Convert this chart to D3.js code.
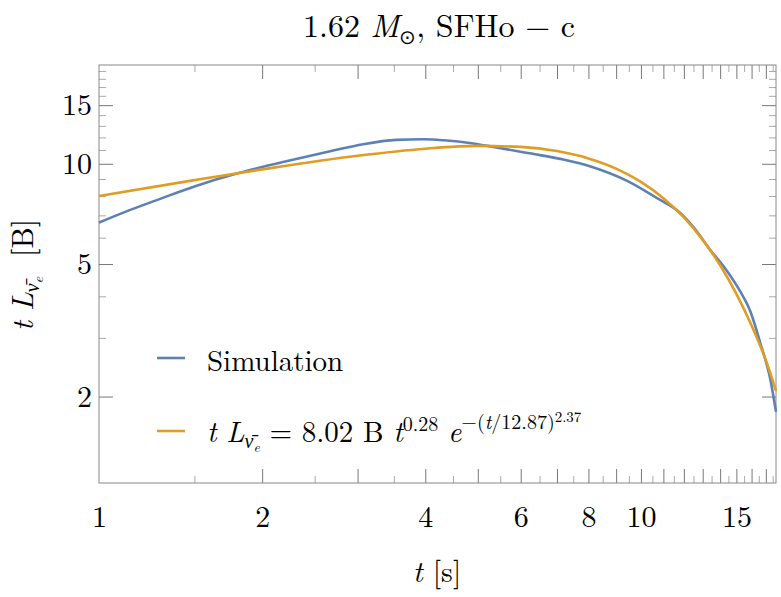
<!DOCTYPE html>
<html>
<head>
<meta charset="utf-8">
<script src="https://cdn.jsdelivr.net/npm/d3@7"></script>
<style>
body { margin: 0; background: #fff; }
text { font-family: "Latin Modern Roman", "CMU Serif", "Liberation Serif", serif; fill: #000; white-space: pre; }
</style>
</head>
<body>
<div id="chart"></div>
<script>
// simulation curve
var simT = [1.00, 1.13, 1.30, 1.50, 1.81, 2.00, 2.30, 2.67, 3.07, 3.54, 3.96, 4.38, 4.83, 5.41, 6.23, 7.19, 8.10, 9.41, 10.83, 11.66, 12.50, 13.38, 14.37, 15.23, 15.92, 16.60, 17.33, 17.75];
var simY = [6.66, 7.22, 7.86, 8.55, 9.38, 9.78, 10.32, 10.90, 11.45, 11.80, 11.85, 11.75, 11.55, 11.20, 10.75, 10.30, 9.80, 8.90, 7.80, 7.25, 6.45, 5.55, 4.80, 4.15, 3.60, 2.90, 2.25, 1.80];

// fitted curve
var fitT = [1, 1.5, 2, 3, 4, 5, 6, 7, 8, 9, 10, 11, 12, 13, 14, 15, 16, 17, 17.75];
var fitY = [8.00, 8.93, 9.62, 10.57, 11.10, 11.32, 11.24, 10.92, 10.38, 9.67, 8.82, 7.88, 6.90, 5.91, 4.96, 4.07, 3.27, 2.57, 2.08];

// ticks
var xLabels = [1, 2, 4, 6, 8, 10, 15];
var xMajor = [2, 3, 4, 5, 6, 7, 8, 9, 10, 11, 12, 13, 14, 15, 16, 17];
var xMinor = [1.5, 2.5, 3.5, 4.5, 5.5, 6.5, 7.5, 8.5, 9.5, 10.5, 11.5, 12.5, 13.5, 14.5, 15.5, 16.5, 17.5];
var yLabels = [2, 5, 10, 15];
var yMinor = [3, 4, 6, 7, 8, 9, 11, 12, 13, 14, 16, 17, 18, 19];

var width = 781, height = 597;
var pLeft = 99, pRight = 776, pTop = 65, pBottom = 483;

var svg = d3.select("#chart").append("svg")
    .attr("width", width)
    .attr("height", height);

var xScale = d3.scaleLog().domain([1, 17.75]).range([pLeft, pRight]);
var yScale = d3.scaleLog().domain([1.1, 19.8]).range([pBottom, pTop]);

function tickAxis(axis, values, size, kind, tr) {
    var g = svg.append("g")
        .attr("transform", tr)
        .call(axis.tickValues(values).tickSize(size).tickFormat(""));
    g.select(".domain").remove();
    g.selectAll(".tick line").attr("stroke", kind == "major" ? "#777" : "#aaa");
    return g;
}

// bottom and top ticks
tickAxis(d3.axisBottom(xScale), xMajor, -14, "major", "translate(0," + pBottom + ")");
tickAxis(d3.axisBottom(xScale), xMinor, -7, "minor", "translate(0," + pBottom + ")");
tickAxis(d3.axisTop(xScale), xMajor, -14, "major", "translate(0," + pTop + ")");
tickAxis(d3.axisTop(xScale), xMinor, -7, "minor", "translate(0," + pTop + ")");
// left and right ticks
tickAxis(d3.axisLeft(yScale), yLabels, -14, "major", "translate(" + pLeft + ",0)");
tickAxis(d3.axisLeft(yScale), yMinor, -7, "minor", "translate(" + pLeft + ",0)");
tickAxis(d3.axisRight(yScale), yLabels, -14, "major", "translate(" + pRight + ",0)");
tickAxis(d3.axisRight(yScale), yMinor, -7, "minor", "translate(" + pRight + ",0)");

// tick labels
var xl = svg.append("g")
    .attr("transform", "translate(0," + pBottom + ")")
    .call(d3.axisBottom(xScale).tickValues(xLabels).tickSize(0).tickPadding(23).tickFormat(d3.format("d")));
xl.select(".domain").remove();
xl.selectAll("text").attr("font-size", 30);

var yl = svg.append("g")
    .attr("transform", "translate(" + pLeft + ",0)")
    .call(d3.axisLeft(yScale).tickValues(yLabels).tickSize(0).tickPadding(7).tickFormat(d3.format("d")));
yl.select(".domain").remove();
yl.selectAll("text").attr("font-size", 30);

// frame
svg.append("rect")
    .attr("x", pLeft).attr("y", pTop)
    .attr("width", pRight - pLeft).attr("height", pBottom - pTop)
    .attr("fill", "none").attr("stroke", "#888").attr("stroke-width", 1);

// curves
var line = d3.line()
    .x(function (d) { return xScale(d[0]); })
    .y(function (d) { return yScale(d[1]); })
    .curve(d3.curveMonotoneX);

svg.append("path")
    .datum(simT.map(function (t, i) { return [t, simY[i]]; }))
    .attr("d", line)
    .attr("fill", "none").attr("stroke", "#5E81B5").attr("stroke-width", 2.6);

svg.append("path")
    .datum(fitT.map(function (t, i) { return [t, fitY[i]]; }))
    .attr("d", line)
    .attr("fill", "none").attr("stroke", "#E19C24").attr("stroke-width", 2.6);

// rich text helper
function rich(sel, parts) {
    parts.forEach(function (p) {
        var ts = sel.append("tspan").text(p.t);
        if (p.i) ts.style("font-style", "italic");
        if (p.fs) ts.attr("font-size", p.fs);
        if (p.dy) ts.attr("dy", p.dy);
    });
}

// title
var title = svg.append("text")
    .attr("x", 439).attr("y", 37)
    .attr("text-anchor", "middle")
    .attr("font-size", 32);
rich(title, [
    {t: "1.62 "},
    {t: "M", i: true},
    {t: "\u2299", fs: 20, dy: 7},
    {t: ", SFHo \u2212 c", dy: -7}
]);

// x label
var xlab = svg.append("text")
    .attr("x", 437).attr("y", 582)
    .attr("text-anchor", "middle")
    .attr("font-size", 30);
rich(xlab, [{t: "t", i: true}, {t: " [s]"}]);

// y label
var ylab = svg.append("text")
    .attr("transform", "translate(33,275) rotate(-90)")
    .attr("text-anchor", "middle")
    .attr("font-size", 30);
rich(ylab, [
    {t: "t", i: true},
    {t: " "},
    {t: "L", i: true},
    {t: "\u03bd\u0304", i: true, fs: 20, dy: 6},
    {t: "e", i: true, fs: 14, dy: 4},
    {t: "  [B]", fs: 30, dy: -10}
]);

// legend
var legend = svg.append("g");
legend.append("line")
    .attr("x1", 157).attr("x2", 185).attr("y1", 358).attr("y2", 358)
    .attr("stroke", "#5E81B5").attr("stroke-width", 2.6);
legend.append("text")
    .attr("x", 207).attr("y", 371)
    .attr("font-size", 29)
    .text("Simulation");

legend.append("line")
    .attr("x1", 157).attr("x2", 185).attr("y1", 431).attr("y2", 431)
    .attr("stroke", "#E19C24").attr("stroke-width", 2.6);
var ftext = legend.append("text")
    .attr("x", 207).attr("y", 442)
    .attr("font-size", 29);
rich(ftext, [
    {t: "t", i: true},
    {t: " "},
    {t: "L", i: true},
    {t: "\u03bd\u0304", i: true, fs: 20, dy: 6},
    {t: "e", i: true, fs: 14, dy: 4},
    {t: " = 8.02 B ", fs: 29, dy: -10},
    {t: "t", i: true},
    {t: "0.28", fs: 20, dy: -11},
    {t: " ", fs: 29, dy: 11},
    {t: "e", i: true},
    {t: "\u2212(", fs: 20, dy: -13},
    {t: "t", i: true, fs: 20},
    {t: "/12.87)", fs: 20},
    {t: "2.37", fs: 15, dy: -7}
]);
</script>
</body>
</html>
